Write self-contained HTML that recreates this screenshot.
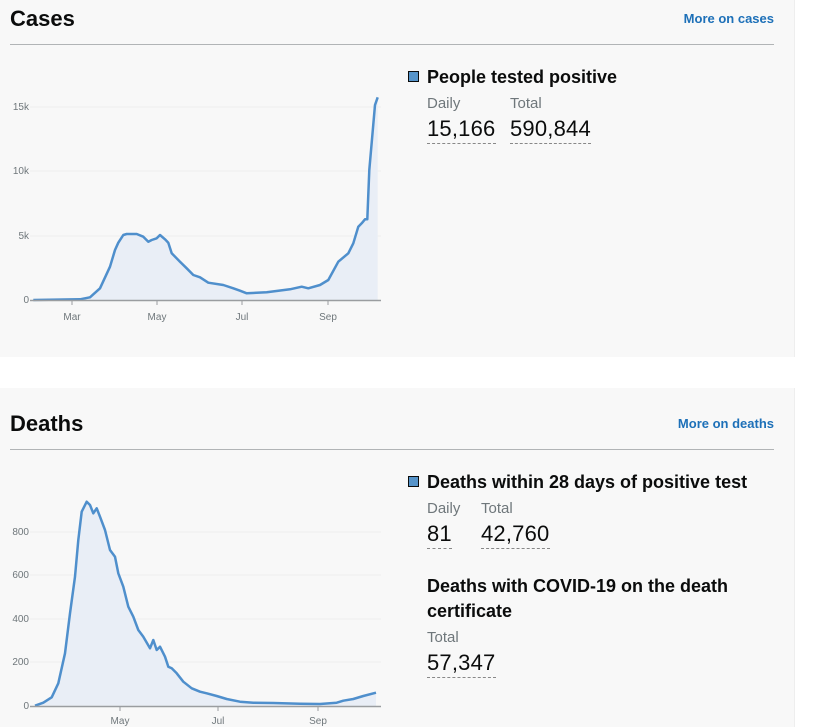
<!DOCTYPE html>
<html><head><meta charset="utf-8"><style>
body{margin:0;width:825px;height:727px;background:#fff;font-family:"Liberation Sans",sans-serif;position:relative;overflow:hidden}
.p{position:absolute;left:0;width:794px;background:#f8f8f8;border-right:1px solid #eee}
.a{position:absolute;white-space:nowrap}
.h{font-size:22px;font-weight:bold;color:#0b0c0c}
.m{font-size:13px;font-weight:bold;color:#1d70b8;right:51px}
.r{position:absolute;left:10px;width:764px;height:1px;background:#b1b4b6}
.sq{position:absolute;width:9px;height:9px;border:1.5px solid #0b0c0c;background:#5694ca}
.t{font-size:18px;font-weight:bold;color:#0b0c0c}
.l{font-size:15px;color:#6f777b}
.v{font-size:22px;letter-spacing:0.2px;color:#0b0c0c;border-bottom:1px dashed #888;padding-bottom:1px}
svg{position:absolute;left:0}
</style></head><body>
<div class="p" style="top:0;height:357px"></div>
<div class="p" style="top:388px;height:339px"></div>

<div class="a h" style="left:10px;top:6px">Cases</div>
<div class="a m" style="top:11px">More on cases</div>
<div class="r" style="top:44px"></div>
<div class="sq" style="left:408px;top:71px"></div>
<div class="a t" style="left:427px;top:67px">People tested positive</div>
<div class="a l" style="left:427px;top:95px">Daily</div>
<div class="a l" style="left:510px;top:95px">Total</div>
<div class="a v" style="left:427px;top:116px">15,166</div>
<div class="a v" style="left:510px;top:116px">590,844</div>

<svg width="400" height="330" style="top:0" font-family="Liberation Sans" font-size="10" fill="#6f777b">
<g stroke="#eee" stroke-width="1"><line x1="30" x2="381" y1="107" y2="107"/><line x1="30" x2="381" y1="171" y2="171"/><line x1="30" x2="381" y1="236" y2="236"/></g>
<g text-anchor="end"><text x="29" y="110">15k</text><text x="29" y="174">10k</text><text x="29" y="239">5k</text><text x="29" y="303">0</text></g>
<path d="M33.3,300 L80,299.3 90,297.3 100,288.3 110,266.7 115,250 118.3,242.7 123.3,235 126.7,234 136.7,234 143.3,236.7 148.3,241.7 151.7,240 156.7,238.3 160,235 165,239.3 168.3,242.7 171.7,253.3 180,261.7 186.7,268.3 193.3,275 200,277.3 208.3,282.7 223.3,285 233.3,288.3 240,290.7 246.7,293.3 266.7,292.3 290,289.3 301.7,286.7 308.3,288.3 320,285 328.3,280 338.3,261.7 348.3,253.3 353.3,243.3 358.3,226.7 361.7,223.3 365,219.3 367.3,219.3 369.3,170 375,105 377.7,97.3 L377.7,300Z" fill="#e9eef6" stroke="none"/>
<path d="M33.3,300 L80,299.3 90,297.3 100,288.3 110,266.7 115,250 118.3,242.7 123.3,235 126.7,234 136.7,234 143.3,236.7 148.3,241.7 151.7,240 156.7,238.3 160,235 165,239.3 168.3,242.7 171.7,253.3 180,261.7 186.7,268.3 193.3,275 200,277.3 208.3,282.7 223.3,285 233.3,288.3 240,290.7 246.7,293.3 266.7,292.3 290,289.3 301.7,286.7 308.3,288.3 320,285 328.3,280 338.3,261.7 348.3,253.3 353.3,243.3 358.3,226.7 361.7,223.3 365,219.3 367.3,219.3 369.3,170 375,105 377.7,97.3" fill="none" stroke="#4f8fcc" stroke-width="2.5" stroke-linejoin="round"/>
<line x1="30" x2="381" y1="300.5" y2="300.5" stroke="#9a9da0" stroke-width="1.5"/>
<g stroke="#9a9da0"><line x1="72" x2="72" y1="300" y2="305"/><line x1="157" x2="157" y1="300" y2="305"/><line x1="242" x2="242" y1="300" y2="305"/><line x1="328" x2="328" y1="300" y2="305"/></g>
<g text-anchor="middle"><text x="72" y="320">Mar</text><text x="157" y="320">May</text><text x="242" y="320">Jul</text><text x="328" y="320">Sep</text></g>
</svg>

<div class="a h" style="left:10px;top:411px">Deaths</div>
<div class="a m" style="top:416px">More on deaths</div>
<div class="r" style="top:449px"></div>
<div class="sq" style="left:408px;top:476px"></div>
<div class="a t" style="left:427px;top:472px">Deaths within 28 days of positive test</div>
<div class="a l" style="left:427px;top:500px">Daily</div>
<div class="a l" style="left:481px;top:500px">Total</div>
<div class="a v" style="left:427px;top:521px">81</div>
<div class="a v" style="left:481px;top:521px">42,760</div>
<div class="a t" style="left:427px;top:574px;line-height:25px">Deaths with COVID-19 on the death<br>certificate</div>
<div class="a l" style="left:427px;top:629px">Total</div>
<div class="a v" style="left:427px;top:650px">57,347</div>

<svg width="400" height="339" style="top:388px" font-family="Liberation Sans" font-size="10" fill="#6f777b">
<g transform="translate(0,-388)">
<g stroke="#eee"><line x1="30" x2="381" y1="532" y2="532"/><line x1="30" x2="381" y1="575" y2="575"/><line x1="30" x2="381" y1="619" y2="619"/><line x1="30" x2="381" y1="662" y2="662"/></g>
<g text-anchor="end"><text x="29" y="535">800</text><text x="29" y="578">600</text><text x="29" y="622">400</text><text x="29" y="665">200</text><text x="29" y="709">0</text></g>
<path d="M35,705.7 L43.3,702.7 51.7,697.3 58.3,683.3 65,653.3 70,613.3 75,576.7 78.3,540 81.7,511.7 86.7,501.7 90,505 93.3,513.3 96.7,508.3 100,516.7 105,530 110,550 115,556.7 118.3,573.3 123.3,586.7 128.3,606.7 133.3,616.7 138.3,630 143.3,636.7 150,648.3 153.3,640 156.7,650 160,646.7 165,656.7 168.3,666.7 171.7,668.3 176.7,673.3 183.3,681.7 191.7,688.3 200,691.7 206.7,693.3 216.7,696 226.7,699 240,701.7 253.3,702.7 273.3,703 300,703.7 320,704 336.7,702.7 343.3,700.7 353.3,699 363.3,696 376,692.7 L376,706Z" fill="#e9eef6"/>
<path d="M35,705.7 L43.3,702.7 51.7,697.3 58.3,683.3 65,653.3 70,613.3 75,576.7 78.3,540 81.7,511.7 86.7,501.7 90,505 93.3,513.3 96.7,508.3 100,516.7 105,530 110,550 115,556.7 118.3,573.3 123.3,586.7 128.3,606.7 133.3,616.7 138.3,630 143.3,636.7 150,648.3 153.3,640 156.7,650 160,646.7 165,656.7 168.3,666.7 171.7,668.3 176.7,673.3 183.3,681.7 191.7,688.3 200,691.7 206.7,693.3 216.7,696 226.7,699 240,701.7 253.3,702.7 273.3,703 300,703.7 320,704 336.7,702.7 343.3,700.7 353.3,699 363.3,696 376,692.7" fill="none" stroke="#4f8fcc" stroke-width="2.5" stroke-linejoin="round"/>
<line x1="30" x2="381" y1="706.5" y2="706.5" stroke="#9a9da0" stroke-width="1.5"/>
<g stroke="#9a9da0"><line x1="120" x2="120" y1="706" y2="711"/><line x1="218" x2="218" y1="706" y2="711"/><line x1="318" x2="318" y1="706" y2="711"/></g>
<g text-anchor="middle"><text x="120" y="724">May</text><text x="218" y="724">Jul</text><text x="318" y="724">Sep</text></g>
</g></svg>
</body></html>
